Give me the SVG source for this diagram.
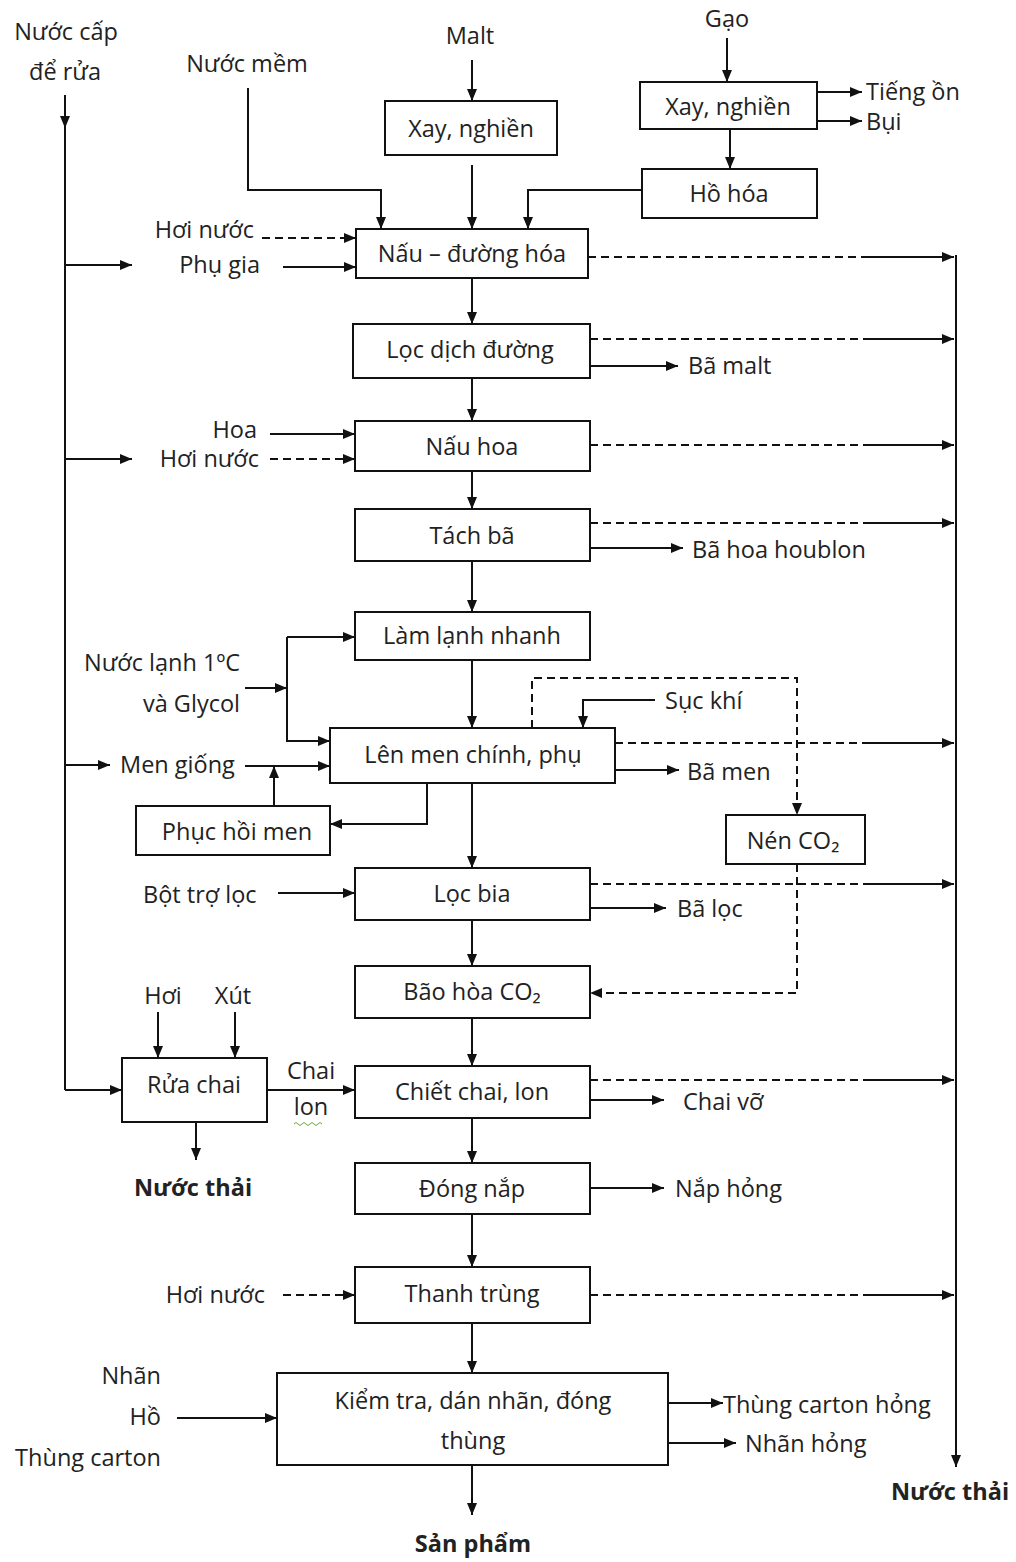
<svg xmlns="http://www.w3.org/2000/svg" width="1016" height="1562" viewBox="0 0 1016 1562">
<style>
text{font-family:"Open Sans","Liberation Sans",sans-serif;font-size:23.5px;fill:#222}
.c{text-anchor:middle}
.r{text-anchor:end}
.b{font-weight:bold}
rect{fill:#fff;stroke:#111;stroke-width:2}
.l{fill:none;stroke:#111;stroke-width:2}
.d{fill:none;stroke:#111;stroke-width:2;stroke-dasharray:8 5}
.a{marker-end:url(#ah)}
</style>
<defs>
<marker id="ah" markerUnits="userSpaceOnUse" markerWidth="12" markerHeight="10" refX="12" refY="5" orient="auto">
<path d="M0,0 L12,5 L0,10 z" fill="#111"/>
</marker>
</defs>
<rect x="0" y="0" width="1016" height="1562" style="fill:#fff;stroke:none"/>

<g id="connectors">
<path class="l" d="M65,95 V1090"/>
<path class="l a" d="M65,95 V128"/>
<path class="l a" d="M65,265 H132"/>
<path class="l a" d="M65,459 H132"/>
<path class="l a" d="M65,765 H110"/>
<path class="l a" d="M65,1090 H122"/>
<path class="l a" d="M472,60 V101"/>
<path class="l a" d="M472,165 V229"/>
<path class="l a" d="M727,38 V82"/>
<path class="l a" d="M730,129 V169"/>
<path class="l a" d="M817,92 H862"/>
<path class="l a" d="M817,121 H862"/>
<path class="l a" d="M642,190 H528 V229"/>
<path class="l a" d="M248,88 V190 H381 V229"/>
<path class="d a" d="M262,238 H356"/>
<path class="l a" d="M283,267 H356"/>
<path class="l a" d="M472,278 V324"/>
<path class="l a" d="M472,378 V421"/>
<path class="l a" d="M472,471 V509"/>
<path class="l a" d="M472,561 V612"/>
<path class="l a" d="M472,660 V728"/>
<path class="l a" d="M472,783 V868"/>
<path class="l a" d="M472,920 V966"/>
<path class="l a" d="M472,1018 V1066"/>
<path class="l a" d="M472,1118 V1163"/>
<path class="l a" d="M472,1214 V1267"/>
<path class="l a" d="M472,1323 V1373"/>
<path class="l a" d="M472,1465 V1515"/>
<path class="d" d="M588,257 H866"/><path class="l a" d="M866,257 H954"/>
<path class="d" d="M590,339 H866"/><path class="l a" d="M866,339 H954"/>
<path class="d" d="M590,445 H866"/><path class="l a" d="M866,445 H954"/>
<path class="d" d="M590,523 H866"/><path class="l a" d="M866,523 H954"/>
<path class="d" d="M615,743 H866"/><path class="l a" d="M866,743 H954"/>
<path class="d" d="M590,884 H866"/><path class="l a" d="M866,884 H954"/>
<path class="d" d="M590,1080 H866"/><path class="l a" d="M866,1080 H954"/>
<path class="d" d="M590,1295 H866"/><path class="l a" d="M866,1295 H954"/>
<path class="l a" d="M956,255 V1467"/>
<path class="l a" d="M590,366 H678"/>
<path class="l a" d="M590,548 H683"/>
<path class="l a" d="M615,770 H679"/>
<path class="l a" d="M590,908 H666"/>
<path class="l a" d="M590,1100 H664"/>
<path class="l a" d="M590,1188 H664"/>
<path class="l a" d="M668,1403 H723"/>
<path class="l a" d="M668,1443 H736"/>
<path class="l a" d="M270,434 H355"/>
<path class="d a" d="M270,459 H355"/>
<path class="l a" d="M245,688 H287"/>
<path class="l a" d="M287,637 V741 H330"/>
<path class="l a" d="M287,637 H355"/>
<path class="l a" d="M245,766 H330"/>
<path class="l a" d="M274,806 V766"/>
<path class="l a" d="M427,783 V824 H330"/>
<path class="d a" d="M532,728 V678 H797 V815"/>
<path class="l a" d="M655,700 H583 V728"/>
<path class="d a" d="M797,864 V993 H590"/>
<path class="l a" d="M278,893 H355"/>
<path class="l a" d="M158,1012 V1058"/>
<path class="l a" d="M235,1012 V1058"/>
<path class="l a" d="M267,1090 H355"/>
<path class="l a" d="M196,1122 V1160"/>
<path d="M294,1124 q2,-3 4,0 t4,0 t4,0 t4,0 t4,0 t4,0 t4,0" fill="none" stroke="#6a3" stroke-width="1"/>
<path class="d a" d="M283,1295 H355"/>
<path class="l a" d="M177,1418 H277"/>
</g>

<g id="n-malt-xay"><rect x="385" y="101" width="172" height="54"/><text class="c" x="471" y="137">Xay, nghiền</text></g>
<g id="n-gao-xay"><rect x="640" y="82" width="177" height="47"/><text class="c" x="728" y="115">Xay, nghiền</text></g>
<g id="n-ho-hoa"><rect x="642" y="169" width="175" height="49"/><text class="c" x="729" y="202">Hồ hóa</text></g>
<g id="n-nau-duong-hoa"><rect x="356" y="229" width="232" height="49"/><text class="c" x="472" y="262">Nấu – đường hóa</text></g>
<g id="n-loc-dich"><rect x="353" y="324" width="237" height="54"/><text class="c" x="470" y="358">Lọc dịch đường</text></g>
<g id="n-nau-hoa"><rect x="355" y="421" width="235" height="50"/><text class="c" x="472" y="455">Nấu hoa</text></g>
<g id="n-tach-ba"><rect x="355" y="509" width="235" height="52"/><text class="c" x="472" y="544">Tách bã</text></g>
<g id="n-lam-lanh"><rect x="355" y="612" width="235" height="48"/><text class="c" x="472" y="644">Làm lạnh nhanh</text></g>
<g id="n-len-men"><rect x="330" y="728" width="285" height="55"/><text class="c" x="473" y="763">Lên men chính, phụ</text></g>
<g id="n-phuc-hoi"><rect x="136" y="806" width="194" height="49"/><text class="c" x="237" y="840">Phục hồi men</text></g>
<g id="n-nen-co2"><rect x="726" y="815" width="139" height="49"/><text class="c" x="793" y="849">Nén CO₂</text></g>
<g id="n-loc-bia"><rect x="355" y="868" width="235" height="52"/><text class="c" x="472" y="902">Lọc bia</text></g>
<g id="n-bao-hoa"><rect x="355" y="966" width="235" height="52"/><text class="c" x="472" y="1000">Bão hòa CO₂</text></g>
<g id="n-rua-chai"><rect x="122" y="1058" width="145" height="64"/><text class="c" x="194" y="1093">Rửa chai</text></g>
<g id="n-chiet"><rect x="355" y="1066" width="235" height="52"/><text class="c" x="472" y="1100">Chiết chai, lon</text></g>
<g id="n-dong-nap"><rect x="355" y="1163" width="235" height="51"/><text class="c" x="472" y="1197">Đóng nắp</text></g>
<g id="n-thanh-trung"><rect x="355" y="1267" width="235" height="56"/><text class="c" x="472" y="1302">Thanh trùng</text></g>
<g id="n-kiem-tra"><rect x="277" y="1373" width="391" height="92"/><text class="c" x="473" y="1409">Kiểm tra, dán nhãn, đóng</text><text class="c" x="473" y="1449">thùng</text></g>

<g id="labels">
<text class="c" x="66" y="40">Nước cấp</text>
<text class="c" x="65" y="80">để rửa</text>
<text class="c" x="247" y="72">Nước mềm</text>
<text class="c" x="470" y="44">Malt</text>
<text class="c" x="727" y="27">Gạo</text>
<text x="866" y="100">Tiếng ồn</text>
<text x="866" y="130">Bụi</text>
<text class="r" x="254" y="238">Hơi nước</text>
<text class="r" x="260" y="273">Phụ gia</text>
<text x="688" y="374">Bã malt</text>
<text class="r" x="257" y="438">Hoa</text>
<text class="r" x="259" y="467">Hơi nước</text>
<text x="692" y="558">Bã hoa houblon</text>
<text class="r" x="240" y="671">Nước lạnh 1ºC</text>
<text class="r" x="240" y="712">và Glycol</text>
<text x="120" y="773">Men giống</text>
<text x="665" y="709">Sục khí</text>
<text x="687" y="780">Bã men</text>
<text x="143" y="903">Bột trợ lọc</text>
<text x="677" y="917">Bã lọc</text>
<text class="c" x="163" y="1004">Hơi</text>
<text class="c" x="233" y="1004">Xút</text>
<text class="c" x="311" y="1079">Chai</text>
<text class="c" x="311" y="1115">lon</text>
<text class="c b" x="193" y="1196">Nước thải</text>
<text x="683" y="1110">Chai vỡ</text>
<text x="675" y="1197">Nắp hỏng</text>
<text class="r" x="265" y="1303">Hơi nước</text>
<text class="r" x="161" y="1384">Nhãn</text>
<text class="r" x="161" y="1425">Hồ</text>
<text class="r" x="161" y="1466">Thùng carton</text>
<text x="723" y="1413">Thùng carton hỏng</text>
<text x="745" y="1452">Nhãn hỏng</text>
<text class="c b" x="473" y="1552">Sản phẩm</text>
<text class="c b" x="950" y="1500">Nước thải</text>
</g>
</svg>
